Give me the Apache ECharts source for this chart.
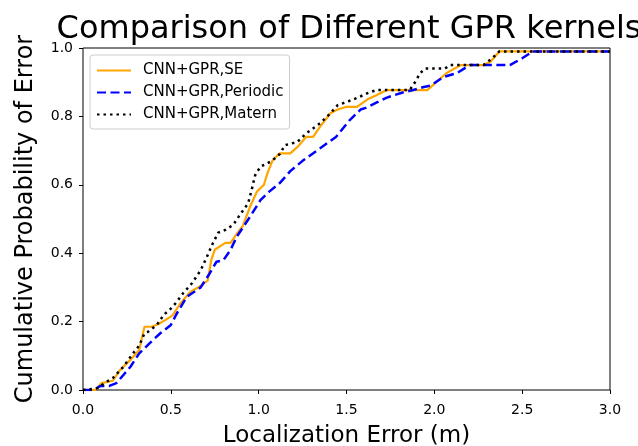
<!DOCTYPE html>
<html>
<head>
<meta charset="utf-8">
<script src="https://cdn.jsdelivr.net/npm/echarts@6/dist/echarts.min.js"></script>
<style>
  html, body { margin: 0; padding: 0; background: #fff; }
  #chart { width: 638px; height: 446px; }
</style>
</head>
<body>
<div id="chart"></div>
<script>
const xTicks = [0, 0.5, 1.0, 1.5, 2.0, 2.5, 3.0];
const yTicks = [0, 0.2, 0.4, 0.6, 0.8, 1.0];

// CNN+GPR,SE
const seErr = [0, 0.07, 0.105, 0.17, 0.21, 0.27, 0.32, 0.35, 0.39, 0.43, 0.47, 0.51, 0.55, 0.61, 0.65, 0.71, 0.73, 0.75, 0.81, 0.84, 0.88, 0.91, 0.95, 0.99, 1.03, 1.05, 1.08, 1.12, 1.18, 1.22, 1.27, 1.31, 1.35, 1.41, 1.45, 1.50, 1.56, 1.62, 1.67, 1.73, 1.94, 1.96, 2.07, 2.15, 2.28, 2.32, 2.37, 3.0];
const seProb = [0, 0, 0.02, 0.027, 0.058, 0.088, 0.117, 0.185, 0.185, 0.193, 0.205, 0.218, 0.25, 0.287, 0.298, 0.32, 0.38, 0.41, 0.43, 0.43, 0.46, 0.48, 0.535, 0.58, 0.6, 0.634, 0.672, 0.692, 0.692, 0.71, 0.74, 0.74, 0.77, 0.81, 0.82, 0.828, 0.828, 0.85, 0.862, 0.877, 0.877, 0.877, 0.927, 0.95, 0.95, 0.96, 0.99, 0.99];

// CNN+GPR,Periodic
const perErr = [0, 0.06, 0.1, 0.15, 0.19, 0.23, 0.27, 0.32, 0.38, 0.44, 0.5, 0.53, 0.59, 0.67, 0.72, 0.76, 0.8, 0.84, 0.875, 0.95, 1.01, 1.06, 1.12, 1.18, 1.25, 1.35, 1.44, 1.52, 1.58, 1.61, 1.67, 1.73, 1.82, 1.88, 1.94, 1.98, 2.05, 2.13, 2.2, 2.43, 2.5, 2.56, 3.0];
const perProb = [0, 0, 0.012, 0.012, 0.02, 0.044, 0.068, 0.107, 0.137, 0.166, 0.19, 0.22, 0.272, 0.3, 0.34, 0.375, 0.38, 0.41, 0.448, 0.506, 0.555, 0.58, 0.605, 0.64, 0.67, 0.707, 0.74, 0.79, 0.82, 0.825, 0.84, 0.855, 0.87, 0.877, 0.886, 0.89, 0.915, 0.927, 0.95, 0.95, 0.97, 0.99, 0.99];

// CNN+GPR,Matern
const matErr = [0, 0.08, 0.135, 0.17, 0.23, 0.285, 0.32, 0.35, 0.37, 0.42, 0.46, 0.5, 0.53, 0.57, 0.62, 0.67, 0.71, 0.74, 0.77, 0.81, 0.855, 0.9, 0.94, 0.96, 0.98, 1.01, 1.05, 1.08, 1.12, 1.15, 1.22, 1.27, 1.35, 1.41, 1.45, 1.50, 1.56, 1.62, 1.67, 1.86, 1.89, 1.92, 1.95, 2.06, 2.09, 2.28, 2.33, 2.37, 3.0];
const matProb = [0, 0.005, 0.024, 0.035, 0.068, 0.107, 0.13, 0.166, 0.17, 0.19, 0.22, 0.238, 0.255, 0.283, 0.312, 0.35, 0.395, 0.43, 0.46, 0.468, 0.483, 0.517, 0.546, 0.585, 0.628, 0.653, 0.663, 0.672, 0.69, 0.716, 0.725, 0.75, 0.78, 0.81, 0.833, 0.842, 0.854, 0.868, 0.877, 0.877, 0.9, 0.927, 0.94, 0.94, 0.95, 0.95, 0.97, 0.99, 0.99];

const zip = (xs, ys) => xs.map((x, i) => [x, ys[i]]);
const font = 'DejaVu Sans';

const chart = echarts.init(document.getElementById('chart'), null, { renderer: 'canvas' });

chart.setOption({
  animation: false,
  backgroundColor: '#fff',
  textStyle: { fontFamily: font },
  title: {
    text: 'Comparison of Different GPR kernels',
    left: 344, top: 9, textAlign: 'center',
    textStyle: { fontFamily: font, fontSize: 32, fontWeight: 'normal', color: '#000' }
  },
  grid: {
    left: 83, right: 28, top: 48, bottom: 56,
    outerBoundsMode: 'none', containLabel: false,
    show: true, borderColor: '#000', borderWidth: 1, backgroundColor: 'transparent'
  },
  legend: {
    orient: 'vertical', left: 90, top: 55,
    padding: [8, 6, 7, 6], itemGap: 7, itemWidth: 34, itemHeight: 15,
    borderColor: '#ccc', borderWidth: 1, borderRadius: 3,
    itemStyle: { color: 'transparent', borderColor: 'transparent', borderWidth: 0 },
    textStyle: { fontFamily: font, fontSize: 15, color: '#000', padding: [0, 0, 0, 7] },
    data: ['CNN+GPR,SE', 'CNN+GPR,Periodic', 'CNN+GPR,Matern']
  },
  xAxis: {
    type: 'value', min: 0, max: 3, interval: 0.5,
    name: 'Localization Error (m)', nameLocation: 'middle', nameGap: 35,
    nameTextStyle: { fontFamily: font, fontSize: 23, color: '#000' },
    axisLine: { show: false },
    axisTick: { show: true, inside: false, length: 4, lineStyle: { color: '#000' } },
    axisLabel: {
      fontFamily: font, fontSize: 14, color: '#000', margin: 13,
      formatter: v => xTicks.includes(v) ? v.toFixed(1) : ''
    },
    splitLine: { show: false }
  },
  yAxis: {
    type: 'value', min: 0, max: 1, interval: 0.2,
    name: 'Cumulative Probability of Error', nameLocation: 'middle', nameGap: 45,
    nameTextStyle: { fontFamily: font, fontSize: 24, color: '#000' },
    axisLine: { show: false },
    axisTick: { show: true, inside: false, length: 4, lineStyle: { color: '#000' } },
    axisLabel: {
      fontFamily: font, fontSize: 14, color: '#000', margin: 10,
      formatter: v => yTicks.some(t => Math.abs(t - v) < 1e-9) ? v.toFixed(1) : ''
    },
    splitLine: { show: false }
  },
  series: [
    {
      name: 'CNN+GPR,SE', type: 'line', data: zip(seErr, seProb),
      showSymbol: false, symbol: 'none', z: 3,
      lineStyle: { color: '#FFA500', width: 2.2 }, itemStyle: { color: '#FFA500' }
    },
    {
      name: 'CNN+GPR,Periodic', type: 'line', data: zip(perErr, perProb),
      showSymbol: false, symbol: 'none', z: 4,
      lineStyle: { color: '#0000FF', width: 2.5, type: [9, 4.5] }, itemStyle: { color: '#0000FF' }
    },
    {
      name: 'CNN+GPR,Matern', type: 'line', data: zip(matErr, matProb),
      showSymbol: false, symbol: 'none', z: 5,
      lineStyle: { color: '#000', width: 2.5, type: [2.5, 4], cap: 'butt' }, itemStyle: { color: '#000' }
    }
  ]
});
</script>
</body>
</html>
